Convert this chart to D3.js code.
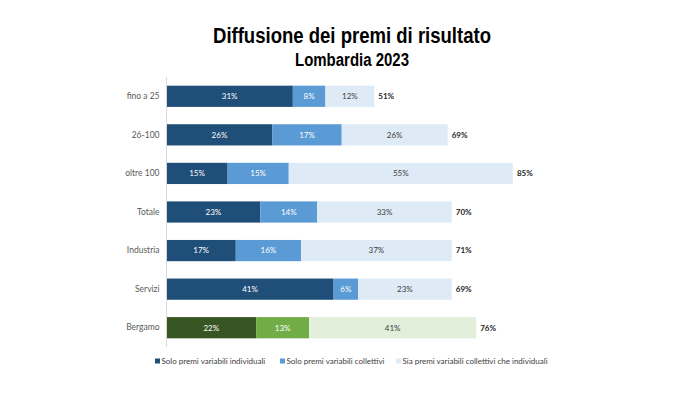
<!DOCTYPE html>
<html>
<head>
<meta charset="utf-8">
<script src="https://cdn.jsdelivr.net/npm/d3@7"></script>
<style>
  body { margin: 0; background: #fff; }
  svg { display: block; }
  .title { font-family: 'Liberation Sans Narrow', 'Arial Narrow', 'Liberation Sans', sans-serif; font-weight: bold; fill: #000; }
  .lbl { font-family: Lato, 'Open Sans', sans-serif; }
</style>
</head>
<body>
<svg width="680" height="397"></svg>
<script>
// data
const categories = ['fino a 25', '26-100', 'oltre 100', 'Totale', 'Industria', 'Servizi', 'Bergamo'];
const series = ['Solo premi variabili individuali', 'Solo premi variabili collettivi', 'Sia premi variabili collettivi che individuali'];
const individuali = [31, 26, 15, 23, 17, 41, 22];
const collettivi = [8, 17, 15, 14, 16, 6, 13];
const entrambi = [12, 26, 55, 33, 37, 23, 41];
const totali = [51, 69, 85, 70, 71, 69, 76];

const blues = ['#1f4e79', '#5b9bd5', '#deebf7'];
const greens = ['#375623', '#70ad47', '#e2efda'];
const labelColors = ['#fff', '#fff', '#404040'];

const svg = d3.select('svg');

const rows = categories.map((c, i) => ({
  cat: c,
  vals: [individuali[i], collettivi[i], entrambi[i]],
  tot: totali[i]
}));

const x = d3.scaleLinear().domain([0, 100]).range([166.5, 574]);
const y = d3.scaleBand().domain(categories).range([77, 347]).paddingInner(0.45).paddingOuter(0.225);

// title (narrow bold face is not installed, so squeeze it to the original width)
svg.append('text').attr('class', 'title').attr('x', 213).attr('y', 43.3)
  .attr('font-size', 21.5)
  .attr('textLength', 278).attr('lengthAdjust', 'spacingAndGlyphs')
  .text('Diffusione dei premi di risultato');
svg.append('text').attr('class', 'title').attr('x', 295).attr('y', 66)
  .attr('font-size', 18)
  .attr('textLength', 114).attr('lengthAdjust', 'spacingAndGlyphs')
  .text('Lombardia 2023');

// stacked bars
const stack = d3.stack().keys([0, 1, 2]).value((d, k) => d.vals[k]);
const layers = stack(rows);

const g = svg.append('g');
layers.forEach((layer, k) => {
  const grp = g.append('g');
  grp.selectAll('rect')
    .data(layer)
    .enter().append('rect')
      .attr('x', d => x(d[0]))
      .attr('y', d => y(d.data.cat))
      .attr('width', d => x(d[1]) - x(d[0]))
      .attr('height', y.bandwidth())
      .attr('fill', d => (d.data.cat === 'Bergamo' ? greens : blues)[k]);
  grp.selectAll('text')
    .data(layer)
    .enter().append('text')
      .attr('class', 'lbl')
      .attr('x', d => (x(d[0]) + x(d[1])) / 2)
      .attr('y', d => y(d.data.cat) + y.bandwidth() / 2)
      .attr('dy', '0.35em')
      .attr('text-anchor', 'middle')
      .attr('font-size', 8)
      .attr('fill', labelColors[k])
      .text(d => d.data.vals[k] + '%');
});

// totals
g.selectAll('.tot')
  .data(rows)
  .enter().append('text')
    .attr('class', 'lbl tot')
    .attr('x', d => x(d3.sum(d.vals)) + 4)
    .attr('y', d => y(d.cat) + y.bandwidth() / 2)
    .attr('dy', '0.35em')
    .attr('font-size', 8)
    .attr('font-weight', 'bold')
    .attr('fill', '#262626')
    .text(d => d.tot + '%');

// category axis
const yAxis = svg.append('g')
  .attr('transform', `translate(${x(0)},0)`)
  .call(d3.axisLeft(y).tickSize(0).tickPadding(7));
yAxis.select('.domain').attr('stroke', '#d9d9d9').attr('d', 'M0,77V347');
yAxis.selectAll('text').attr('class', 'lbl').attr('font-size', 8.5).attr('fill', '#595959');

// legend
const legendX = [155, 280, 396];
const legend = svg.append('g').selectAll('g')
  .data(series)
  .enter().append('g')
    .attr('transform', (d, i) => `translate(${legendX[i]},361)`);
legend.append('rect').attr('x', 0).attr('y', -2.5).attr('width', 5).attr('height', 5)
  .attr('fill', (d, i) => blues[i]);
legend.append('text').attr('class', 'lbl').attr('x', 6.5).attr('dy', '0.35em')
  .attr('font-size', 8).attr('fill', '#404040').text(d => d);
</script>
</body>
</html>
